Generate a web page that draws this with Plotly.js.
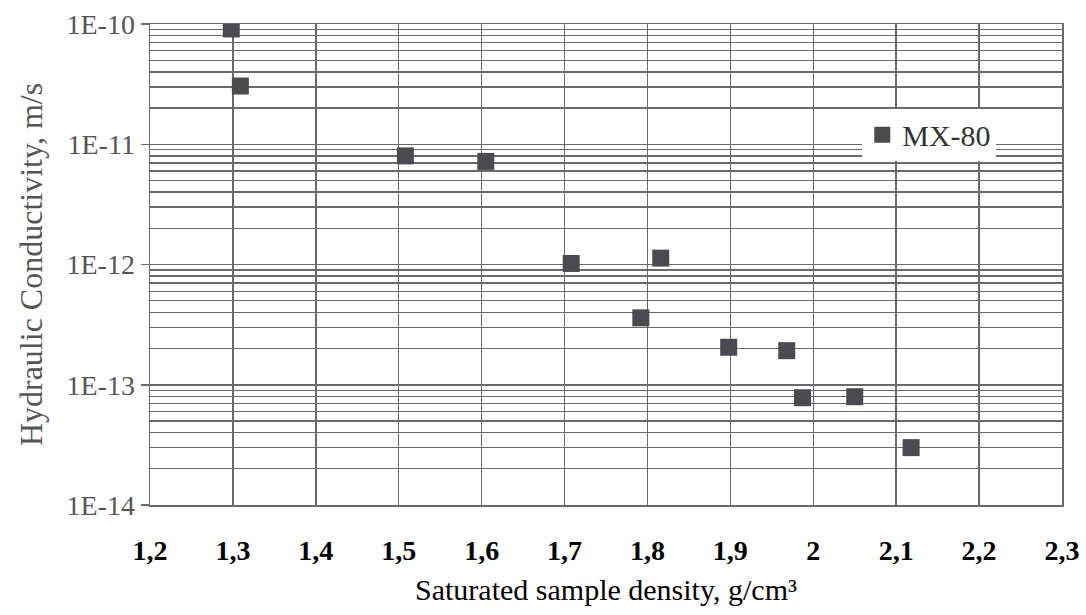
<!DOCTYPE html>
<html>
<head>
<meta charset="utf-8">
<script src="https://cdn.plot.ly/plotly-3.0.1.min.js"></script>
<style>html,body{margin:0;padding:0;background:#fff;}#chart{width:1086px;height:615px;}</style>
</head>
<body>
<div id="chart"></div>
<script>
const seriesName = "MX-80";
const density = [1.298, 1.309, 1.508, 1.605, 1.708, 1.792, 1.816, 1.898, 1.968, 1.987, 2.050, 2.118];
const conductivity = [9.1e-11, 3.05e-11, 8.0e-12, 7.2e-12, 1.02e-12, 3.6e-13, 1.13e-12, 2.05e-13, 1.92e-13, 7.8e-14, 7.95e-14, 3.0e-14];
const xTickVals = [1.2, 1.3, 1.4, 1.5, 1.6, 1.7, 1.8, 1.9, 2.0, 2.1, 2.2, 2.3];
const xTickText = ["1,2", "1,3", "1,4", "1,5", "1,6", "1,7", "1,8", "1,9", "2", "2,1", "2,2", "2,3"];
const yTickVals = [1e-14, 1e-13, 1e-12, 1e-11, 1e-10];
const yTickText = ["1E-14", "1E-13", "1E-12", "1E-11", "1E-10"];
const xTitle = "Saturated sample density, g/cm³";
const yTitle = "Hydraulic Conductivity, m/s";

const gridCol = "#6a6a6e";
const serif = "Liberation Serif, Times New Roman, serif";
const trace = {
  x: density, y: conductivity, type: "scatter", mode: "markers", name: seriesName,
  marker: {symbol: "square", size: 17, color: "#4a4a50", line: {width: 0}}
};
const layout = {
  width: 1086, height: 615,
  margin: {l: 150, r: 24, t: 24, b: 110},
  paper_bgcolor: "#fff", plot_bgcolor: "#fff",
  font: {family: serif, color: "#000"},
  showlegend: true,
  legend: {x: 0.781, y: 0.77, xanchor: "left", yanchor: "middle", bgcolor: "#fff",
    font: {size: 30, color: "#333", family: serif}, itemwidth: 30},
  xaxis: {
    range: [1.2, 2.3], tickvals: xTickVals, ticktext: xTickText,
    showgrid: true, gridcolor: gridCol, gridwidth: 1.5,
    showline: true, linecolor: gridCol, linewidth: 1.5, mirror: true,
    ticks: "", ticklabelstandoff: 20, zeroline: false,
    tickfont: {size: 28, color: "#000", family: serif, weight: "bold"},
    title: {text: xTitle, font: {size: 30, color: "#000", family: serif}, standoff: 14}
  },
  yaxis: {
    type: "log", range: [-14, -10], tickvals: yTickVals, ticktext: yTickText,
    showgrid: true, gridcolor: gridCol, gridwidth: 1.5,
    showline: true, linecolor: gridCol, linewidth: 1.5, mirror: true,
    ticks: "outside", ticklen: 8, tickcolor: gridCol, tickwidth: 1.5,
    minor: {showgrid: true, gridcolor: gridCol, gridwidth: 1.3, dtick: "D1", ticks: ""},
    tickfont: {size: 28, color: "#555", family: serif},
    title: {text: yTitle, font: {size: 32, color: "#555", family: serif}, standoff: 14}
  }
};
Plotly.newPlot("chart", [trace], layout, {staticPlot: true});
</script>
</body>
</html>
